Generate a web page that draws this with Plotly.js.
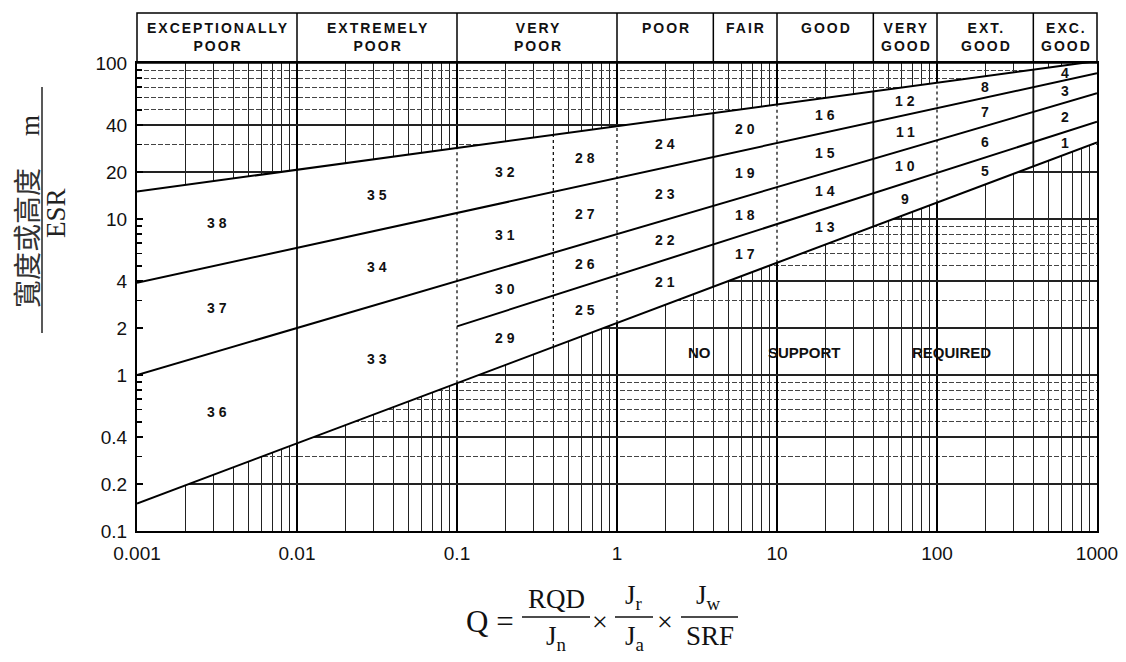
<!DOCTYPE html>
<html><head><meta charset="utf-8">
<script src="https://cdn.plot.ly/plotly-3.0.1.min.js"></script>
<style>html,body{margin:0;padding:0;background:#fff;} #chart{width:1126px;height:662px;}</style>
</head><body><div id="chart"></div>
<script>
// ---------------- data ----------------
// boundary lines of the support chart: Q value -> span/ESR value
const lineTopQ = [0.001, 1000];
const lineTopV = [15, 103];
const line1Q = [0.001, 1000];
const line1V = [3.9, 86];
const line2Q = [0.001, 1000];
const line2V = [1.0, 64];
const line3Q = [0.1, 1000];
const line3V = [2.05, 42];
const lineBotQ = [0.001, 1000];
const lineBotV = [0.15, 31];

// support category columns and their numbers (top to bottom)
const columnQ = [0.001, 0.01, 0.1, 0.4, 1, 4, 10, 40, 100, 400, 1000];
const zoneNumbers = [
  [38, 37, 36], [35, 34, 33], [32, 31, 30, 29], [28, 27, 26, 25], [24, 23, 22, 21],
  [20, 19, 18, 17], [16, 15, 14, 13], [12, 11, 10, 9], [8, 7, 6, 5], [4, 3, 2, 1]
];
const dividerQ = [0.01, 0.1, 0.4, 1, 4, 10, 40, 100, 400];
const dividerSolid = [true, false, false, false, true, false, true, false, true];

// rock mass classes (header)
const classQ = [0.001, 0.01, 0.1, 1, 4, 10, 40, 100, 400, 1000];
const classLabels = [
  ['EXCEPTIONALLY', 'POOR'], ['EXTREMELY', 'POOR'], ['VERY', 'POOR'], ['POOR'], ['FAIR'],
  ['GOOD'], ['VERY', 'GOOD'], ['EXT.', 'GOOD'], ['EXC.', 'GOOD']
];

// ticks
const xTickVals = [0.001, 0.01, 0.1, 1, 10, 100, 1000];
const xTickText = ['0.001', '0.01', '0.1', '1', '10', '100', '1000'];
const yTickVals = [0.1, 0.2, 0.4, 1, 2, 4, 10, 20, 40, 100];
const yTickText = ['0.1', '0.2', '0.4', '1', '2', '4', '10', '20', '40', '100'];

// ---------------- helpers ----------------
const L = Math.log10;
function valAt(qs, vs, q) {
  for (let i = 0; i < qs.length - 1; i++) {
    if (q >= qs[i] * 0.999999 && q <= qs[i + 1] * 1.000001) {
      const t = (L(q) - L(qs[i])) / (L(qs[i + 1]) - L(qs[i]));
      return Math.pow(10, L(vs[i]) + t * (L(vs[i + 1]) - L(vs[i])));
    }
  }
  return null;
}
const lines = {
  T: [lineTopQ, lineTopV], L1: [line1Q, line1V], L2: [line2Q, line2V],
  L3: [line3Q, line3V], B: [lineBotQ, lineBotV]
};
const X0 = 137, X1 = 1097, Y0 = 63, Y1 = 531;
function px(x) { return (x - X0) / (X1 - X0); }
function py(y) { return (Y1 - y) / (Y1 - Y0); }
function qPaper(q) { return (L(q) + 3) / 6; }

const traces = [];
// white band covering the grid between top and bottom boundary
traces.push({
  x: lineTopQ.concat(lineBotQ.slice().reverse()),
  y: lineTopV.concat(lineBotV.slice().reverse()),
  type: 'scatter', mode: 'lines', fill: 'toself', fillcolor: '#ffffff',
  line: {width: 0, color: 'rgba(0,0,0,0)'}, hoverinfo: 'skip', showlegend: false
});
// column dividers inside the band
dividerQ.forEach((q, i) => {
  traces.push({
    x: [q, q], y: [valAt(lineBotQ, lineBotV, q), valAt(lineTopQ, lineTopV, q)],
    type: 'scatter', mode: 'lines',
    line: {color: '#111', width: dividerSolid[i] ? 1.8 : 1.3, dash: dividerSolid[i] ? 'solid' : 'dot'},
    hoverinfo: 'skip', showlegend: false
  });
});
// boundary lines
Object.keys(lines).forEach(k => {
  traces.push({
    x: lines[k][0], y: lines[k][1], type: 'scatter', mode: 'lines',
    line: {color: '#000', width: 2}, hoverinfo: 'skip', showlegend: false
  });
});

const annotations = [];
function note(o) {
  annotations.push(Object.assign({xref: 'paper', yref: 'paper', xanchor: 'center', yanchor: 'middle', showarrow: false}, o));
}
// zone numbers at the centre of each cell
zoneNumbers.forEach((col, ci) => {
  const q0 = columnQ[ci], q1 = columnQ[ci + 1];
  const qc = Math.sqrt(q0 * q1);
  const bounds = col.length === 3 ? ['T', 'L1', 'L2', 'B'] : ['T', 'L1', 'L2', 'L3', 'B'];
  col.forEach((num, zi) => {
    const up = valAt(lines[bounds[zi]][0], lines[bounds[zi]][1], qc);
    const lo = valAt(lines[bounds[zi + 1]][0], lines[bounds[zi + 1]][1], qc);
    note({
      x: L(qc), y: (L(up) + L(lo)) / 2, xref: 'x', yref: 'y',
      text: '<b><span style="letter-spacing:4px">' + num + '</span></b>', xshift: 2,
      font: {family: 'Liberation Sans, Arial, sans-serif', size: 14, color: '#111'}
    });
  });
});

// header
const shapes = [];
const headTop = py(13);
shapes.push({type: 'rect', xref: 'paper', yref: 'paper', x0: 0, x1: 1, y0: 1, y1: headTop,
  line: {color: '#000', width: 1.5}, fillcolor: 'rgba(0,0,0,0)'});
classQ.slice(1, -1).forEach(q => {
  shapes.push({type: 'line', xref: 'paper', yref: 'paper', x0: qPaper(q), x1: qPaper(q), y0: 1, y1: headTop,
    line: {color: '#000', width: 1.5}});
});
classLabels.forEach((lab, i) => {
  note({
    x: (qPaper(classQ[i]) + qPaper(classQ[i + 1])) / 2, y: py(18), yanchor: 'top', xshift: 1,
    text: lab.map(s => '<b><span style="letter-spacing:2px">' + s + '</span></b>').join('<br>'),
    font: {family: 'Liberation Sans, Arial, sans-serif', size: 14, color: '#111'}
  });
});

// NO SUPPORT REQUIRED
[['NO', 699], ['SUPPORT', 804], ['REQUIRED', 951]].forEach(w => {
  note({x: px(w[1]), y: py(352), text: '<b>' + w[0] + '</b>',
    font: {family: 'Liberation Sans, Arial, sans-serif', size: 15, color: '#111'}});
});

// y-axis title (fraction, rotated)
note({x: px(26), y: py(238), textangle: -90,
  text: '寬度或高度', font: {family: 'Noto Sans CJK TC', size: 28, color: '#333'}});
note({x: px(30), y: py(126), textangle: -90,
  text: 'm', font: {family: 'Liberation Serif, serif', size: 27, color: '#222'}});
note({x: px(56), y: py(213), textangle: -90,
  text: 'ESR', font: {family: 'Liberation Serif, serif', size: 27, color: '#222'}});
shapes.push({type: 'line', xref: 'paper', yref: 'paper', x0: px(42), x1: px(42), y0: py(333), y1: py(87),
  line: {color: '#222', width: 1.5}});

// x-axis title: Q = RQD/Jn x Jr/Ja x Jw/SRF
const serif = 'Liberation Serif, serif';
note({x: px(490), y: py(621), text: 'Q =', font: {family: serif, size: 31, color: '#111'}});
const fracs = [
  {num: 'RQD', den: 'J<sub>n</sub>', nx: 556, dx: 556, b0: 522, b1: 590},
  {num: 'J<sub>r</sub>', den: 'J<sub>a</sub>', nx: 634, dx: 635, b0: 615, b1: 653},
  {num: 'J<sub>w</sub>', den: 'SRF', nx: 708, dx: 710, b0: 681, b1: 738}
];
fracs.forEach(f => {
  note({x: px(f.nx), y: py(616), yanchor: 'bottom', text: f.num, font: {family: serif, size: 27, color: '#111'}});
  note({x: px(f.dx), y: py(619), yanchor: 'top', text: f.den, font: {family: serif, size: 27, color: '#111'}});
  shapes.push({type: 'line', xref: 'paper', yref: 'paper', x0: px(f.b0), x1: px(f.b1), y0: py(617), y1: py(617),
    line: {color: '#111', width: 1.3}});
});
[600, 665].forEach(x => note({x: px(x), y: py(621), text: '×', font: {family: serif, size: 28, color: '#111'}}));

// minor grid positions
const minorX = [];
for (let e = -3; e < 3; e++) for (let k = 2; k <= 9; k++) minorX.push(k * Math.pow(10, e));
const minorY = [];
for (let e = -1; e < 2; e++) for (let k = 1; k <= 9; k++) minorY.push(k * Math.pow(10, e));

const layout = {
  width: 1126, height: 662,
  margin: {l: X0, r: 1126 - X1, t: Y0, b: 662 - Y1},
  paper_bgcolor: '#fff', plot_bgcolor: '#fff', showlegend: false,
  xaxis: {
    type: 'log', range: [-3, 3], tickmode: 'array', tickvals: xTickVals, ticktext: xTickText,
    showgrid: true, gridcolor: '#000', gridwidth: 1.3, zeroline: false,
    showline: true, linecolor: '#000', linewidth: 2, mirror: true, ticks: '',
    ticklabelstandoff: 4,
    tickfont: {family: 'Liberation Sans, Arial, sans-serif', size: 19, color: '#111'},
    minor: {tickmode: 'array', tickvals: minorX, showgrid: true, gridcolor: '#222', gridwidth: 1, ticks: ''}
  },
  yaxis: {
    type: 'log', range: [-1, 2], tickmode: 'array', tickvals: yTickVals, ticktext: yTickText,
    showgrid: true, gridcolor: '#222', gridwidth: 1.2, zeroline: false,
    showline: true, linecolor: '#000', linewidth: 2, mirror: true,
    ticks: 'inside', ticklen: 6, tickcolor: '#000', tickwidth: 1.5,
    ticklabelstandoff: 4,
    tickfont: {family: 'Liberation Sans, Arial, sans-serif', size: 19, color: '#111'},
    minor: {tickmode: 'array', tickvals: minorY, showgrid: true, gridcolor: '#444', gridwidth: 1,
      griddash: '5px,2px', ticks: 'inside', ticklen: 5, tickcolor: '#000'}
  },
  shapes: shapes,
  annotations: annotations
};

Plotly.newPlot('chart', traces, layout, {staticPlot: true, displayModeBar: false});
</script>
</body></html>
